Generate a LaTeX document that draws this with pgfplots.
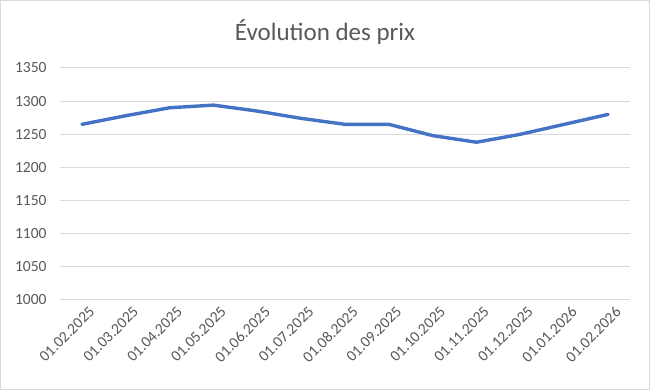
\documentclass[border=0pt]{standalone}
\usepackage{pgfplots}
\pgfplotsset{compat=1.18}
\usepackage{fontspec}
\setmainfont{Carlito}
\definecolor{linecol}{HTML}{4472C4}
\definecolor{txtcol}{HTML}{595959}
\definecolor{gridcol}{HTML}{D9D9D9}
\begin{document}
\begin{tikzpicture}[x=1pt,y=1pt]
\draw[draw=gridcol, fill=white, line width=1pt] (0.5,0.5) rectangle (649.5,389.5);
\node[text=txtcol, font=\fontsize{25}{30}\selectfont] at (325,358) {Évolution des prix};
\begin{axis}[
  at={(60pt,90pt)}, anchor=south west,
  scale only axis, width=570pt, height=232pt,
  xmin=-0.5, xmax=12.5, ymin=1000, ymax=1350,
  ytick={1000,1050,...,1350},
  xtick={0,...,12},
  xticklabels={01.02.2025,01.03.2025,01.04.2025,01.05.2025,01.06.2025,01.07.2025,01.08.2025,01.09.2025,01.10.2025,01.11.2025,01.12.2025,01.01.2026,01.02.2026},
  axis line style={draw=none},
  ymajorgrids, grid style={draw=gridcol, line width=1pt},
  major tick length=0pt,
  tick label style={font=\fontsize{15.5}{18}\selectfont, text=txtcol},
  /pgf/number format/assume math mode=true,
  /pgf/number format/1000 sep={},
  yticklabel style={anchor=east, xshift=-10pt},
  xticklabel style={rotate=45, anchor=north east, xshift=4pt, yshift=-5pt},
  clip=false,
]
\draw[draw=gridcol, line width=1pt] (axis cs:-0.5,1000) -- (axis cs:12.5,1000);
\addplot[linecol, line width=3.4pt, line join=round, line cap=round] coordinates {
(0,1265) (1,1278) (2,1290) (3,1294) (4,1285) (5,1274) (6,1265) (7,1265) (8,1248) (9,1238) (10,1250) (11,1265) (12,1280)
};
\end{axis}
\end{tikzpicture}
\end{document}
